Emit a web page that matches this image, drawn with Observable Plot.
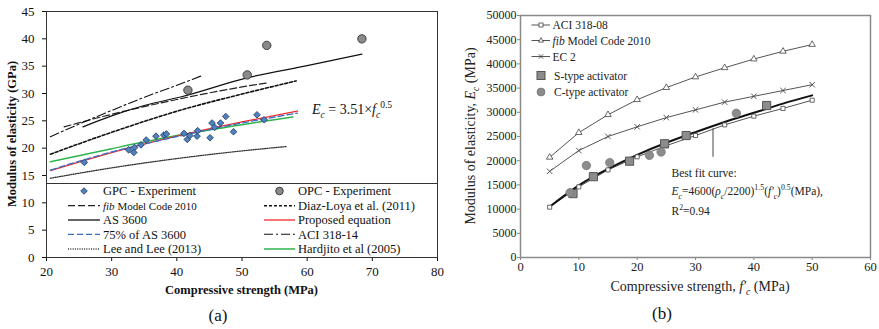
<!DOCTYPE html>
<html><head><meta charset="utf-8">
<script src="https://cdn.jsdelivr.net/npm/d3@7"></script>
<script src="https://cdn.jsdelivr.net/npm/@observablehq/plot@0.6"></script>
<style>
body{margin:0;background:#fff;}
#wrap{position:relative;width:879px;height:329px;font-family:"Liberation Serif","Times New Roman",serif;overflow:hidden;background:#fff;color:#111}
#wrap svg, #wrap svg text{font-family:"Liberation Serif","Times New Roman",serif}
.abs{position:absolute;white-space:nowrap;line-height:1;font-family:"Liberation Serif","Times New Roman",serif}
.panel{position:absolute;top:0;overflow:visible}
sub,sup{font-size:0.68em;line-height:0}
#overlay{position:absolute;left:0;top:0;pointer-events:none}
</style></head><body><div id="wrap"></div><script>
// ---------- Panel (a) data ----------
const xTicksA = [20, 30, 40, 50, 60, 70, 80];
const yTicksA = [0, 5, 10, 15, 20, 25, 30, 35, 40, 45];
const gpcStrength = [25.8, 32.6, 33.5, 33.4, 34.5, 35.3, 36.8, 38.0, 38.4, 41.1, 41.6, 42.0, 43.1, 43.2, 45.1, 45.4, 45.8, 46.7, 47.5, 48.7, 52.3, 53.4];
const gpcModulus  = [17.4, 19.7, 20.1, 19.2, 20.6, 21.5, 22.2, 22.4, 22.6, 22.7, 21.6, 22.3, 22.2, 23.2, 21.9, 24.6, 23.8, 24.6, 25.8, 23.0, 26.1, 25.2];
const opcStrength = [41.7, 50.8, 53.8, 68.4];
const opcModulus  = [30.6, 33.4, 38.8, 40.0];
const fibMC2010   = [[22.7, 23.9], [30, 26.2], [40, 28.9], [50, 31.2], [53.7, 31.9]];
const diazLoya    = [[20.6, 18.9], [30, 22.9], [40.7, 27.0], [50, 29.9], [58.3, 32.3]];
const as3600      = [[25.6, 23.9], [30, 25.9], [35, 27.8], [40.7, 29.4], [50.9, 32.9], [60, 35.1], [68.4, 37.2]];
const proposedEq  = [[20.6, 15.9], [30, 19.2], [40, 22.2], [50, 24.8], [58.5, 26.8]];
const as3600pct75 = [[20.6, 16.0], [30, 19.3], [40, 22.1], [50, 24.6], [58.5, 26.4]];
const aci31814    = [[20.6, 22.1], [25, 24.4], [30, 26.9], [35, 29.3], [40, 31.5], [43.7, 33.2]];
const leeLee      = [[20.6, 14.5], [30, 16.4], [40, 18.1], [50, 19.5], [56.8, 20.3]];
const hardjito    = [[20.6, 17.5], [30, 19.9], [40, 22.3], [50, 24.3], [57.8, 25.7]];

// ---------- Panel (b) data ----------
const xTicksB = [0, 10, 20, 30, 40, 50, 60];
const yTicksB = [0, 5000, 10000, 15000, 20000, 25000, 30000, 35000, 40000, 45000, 50000];
const codeStrength = [5, 10, 15, 20, 25, 30, 35, 40, 45, 50];
const aci31808  = [10400, 14600, 18100, 20800, 23100, 25200, 27400, 29200, 30800, 32500];
const fibB      = [20700, 25800, 29500, 32600, 35100, 37300, 39200, 41000, 42600, 44000];
const ec2       = [17800, 22100, 25000, 27000, 28900, 30500, 32100, 33300, 34500, 35700];
const bestFit   = [10500, 14900, 18300, 21200, 23700, 25900, 28000, 29900, 31800, 33500];
const sStrength = [9.0, 12.5, 18.7, 24.7, 28.4, 42.2];
const sModulus  = [13200, 16700, 19900, 23500, 25200, 31400];
const cStrength = [8.5, 11.3, 15.3, 22.1, 24.1, 37.0];
const cModulus  = [13400, 19000, 19600, 21100, 21800, 29800];
const pointerX  = [33];
const pointerY1 = [26600];
const pointerY2 = [20700];

// ---------- helpers ----------
const pts = arr => arr.map(([f, E]) => ({f, E}));
const zipB = ys => codeStrength.map((f, i) => ({f, E: ys[i]}));
const wrap = document.getElementById("wrap");
const FONT = "'Liberation Serif', 'Times New Roman', serif";

const linesA = [
  {data: hardjito, stroke: "#2fb34c", width: 1.5, dash: null},
  {data: leeLee, stroke: "#333", width: 1.3, dash: "1,1.3"},
  {data: diazLoya, stroke: "#111", width: 1.6, dash: "3,2"},
  {data: fibMC2010, stroke: "#222", width: 1.2, dash: "7,3"},
  {data: aci31814, stroke: "#111", width: 1.1, dash: "9,3,2,3"},
  {data: as3600, stroke: "#111", width: 1.2, dash: null},
  {data: proposedEq, stroke: "#ee2b2b", width: 1.3, dash: null},
  {data: as3600pct75, stroke: "#3a6fc4", width: 1.3, dash: "6,3"}
];

const plotA = Plot.plot({
  width: 440, height: 300,
  marginTop: 11, marginBottom: 43, marginLeft: 46, marginRight: 3,
  style: {fontFamily: FONT, fontSize: "13px", color: "#111", background: "transparent", overflow: "visible"},
  x: {domain: [20, 80]},
  y: {domain: [0, 45]},
  marks: [
    Plot.axisX({ticks: xTicksA, tickSize: 4, tickPadding: 5, label: null, fontSize: 13}),
    Plot.axisY({ticks: yTicksA, tickSize: 4, tickPadding: 8, label: null, fontSize: 13}),
    ...linesA.map(l => Plot.line(pts(l.data), {x: "f", y: "E", stroke: l.stroke, strokeWidth: l.width, strokeDasharray: l.dash, curve: "monotone-x"})),
    Plot.dot(gpcStrength.map((f, i) => ({f, E: gpcModulus[i]})), {x: "f", y: "E", symbol: "diamond2", r: 3, fill: "#4f81bd", stroke: "#1f3864", strokeWidth: 0.8}),
    Plot.dot(opcStrength.map((f, i) => ({f, E: opcModulus[i]})), {x: "f", y: "E", r: 4.2, fill: "#8a8a8a", stroke: "#333", strokeWidth: 0.9}),
    Plot.frame({stroke: "#333", strokeWidth: 1})
  ]
});

const plotB = Plot.plot({
  width: 439, height: 300,
  marginTop: 15, marginBottom: 43, marginLeft: 80, marginRight: 9,
  style: {fontFamily: FONT, fontSize: "12px", color: "#222", background: "transparent"},
  x: {domain: [0, 60]},
  y: {domain: [0, 50000]},
  marks: [
    Plot.axisX({ticks: xTicksB, tickSize: 3, tickPadding: 2, label: null, fontSize: 12.5, stroke: "#888", tickFormat: d3.format("d")}),
    Plot.axisY({ticks: yTicksB, tickSize: 3, tickPadding: 1, label: null, fontSize: 12, stroke: "#888", tickFormat: d3.format("d")}),
    Plot.line(zipB(fibB), {x: "f", y: "E", stroke: "#555", strokeWidth: 1}),
    Plot.line(zipB(ec2), {x: "f", y: "E", stroke: "#555", strokeWidth: 1}),
    Plot.line(zipB(aci31808), {x: "f", y: "E", stroke: "#555", strokeWidth: 1}),
    Plot.line(zipB(bestFit), {x: "f", y: "E", stroke: "#111", strokeWidth: 2, curve: "natural"}),
    Plot.ruleX(pointerX.map((f, i) => ({f, y1: pointerY1[i], y2: pointerY2[i]})), {x: "f", y1: "y1", y2: "y2", stroke: "#444", strokeWidth: 1}),
    Plot.dot(zipB(fibB), {x: "f", y: "E", symbol: "triangle", r: 2.4, fill: "white", stroke: "#444", strokeWidth: 0.8}),
    Plot.dot(zipB(ec2), {x: "f", y: "E", symbol: "times", r: 2.6, stroke: "#444", strokeWidth: 0.9}),
    Plot.dot(zipB(aci31808), {x: "f", y: "E", symbol: "square", r: 2.3, fill: "white", stroke: "#444", strokeWidth: 0.8}),
    Plot.dot(sStrength.map((f, i) => ({f, E: sModulus[i]})), {x: "f", y: "E", symbol: "square", r: 4.6, fill: "#8c8c8c", stroke: "#555", strokeWidth: 1}),
    Plot.dot(cStrength.map((f, i) => ({f, E: cModulus[i]})), {x: "f", y: "E", r: 4.2, fill: "#8c8c8c", stroke: "#777", strokeWidth: 0.8}),
    Plot.frame({stroke: "#8a8a8a", strokeWidth: 1.5})
  ]
});

const pb = document.createElement("div");
pb.className = "panel"; pb.style.left = "440px"; pb.style.width = "439px"; pb.style.height = "300px";
pb.appendChild(plotB); wrap.appendChild(pb);
const pa = document.createElement("div");
pa.className = "panel"; pa.style.left = "0px"; pa.style.width = "440px"; pa.style.height = "300px";
pa.appendChild(plotA); wrap.appendChild(pa);

// ---------- overlay legends ----------
const ov = d3.select(wrap).append("svg").attr("id", "overlay").attr("width", 879).attr("height", 329)
  .style("font-family", FONT);

// Legend (a)
const legA = ov.append("g");
legA.append("rect").attr("x", 47).attr("y", 183.5).attr("width", 389.5).attr("height", 73).attr("fill", "white");
legA.append("line").attr("x1", 46).attr("x2", 437).attr("y1", 183.5).attr("y2", 183.5).attr("stroke", "#333").attr("stroke-width", 1);
const rowsA = [191, 205.7, 220, 234.3, 249];
const legendLeftA = [
  {label: "GPC - Experiment", type: "diamond"},
  {label: "fib", rest: " Model Code 2010", type: "line", stroke: "#222", dash: "7,3", w: 1.2},
  {label: "AS 3600", type: "line", stroke: "#111", dash: null, w: 1.3},
  {label: "75% of AS 3600", type: "line", stroke: "#3a6fc4", dash: "6,3", w: 1.3},
  {label: "Lee and Lee (2013)", type: "line", stroke: "#333", dash: "1,1.3", w: 1.3}
];
const legendRightA = [
  {label: "OPC - Experiment", type: "circle"},
  {label: "Diaz-Loya et al. (2011)", type: "line", stroke: "#111", dash: "3,2", w: 1.6},
  {label: "Proposed equation", type: "line", stroke: "#ee2b2b", dash: null, w: 1.3},
  {label: "ACI 318-14", type: "line", stroke: "#111", dash: "9,3,2,3", w: 1.1},
  {label: "Hardjito et al (2005)", type: "line", stroke: "#2fb34c", dash: null, w: 1.5}
];
function drawLegendA(items, x0, x1, tx) {
  items.forEach((it, i) => {
    const y = rowsA[i];
    if (it.type === "line") {
      legA.append("line").attr("x1", x0).attr("x2", x1).attr("y1", y).attr("y2", y)
        .attr("stroke", it.stroke).attr("stroke-width", it.w).attr("stroke-dasharray", it.dash);
    } else if (it.type === "diamond") {
      const c = (x0 + x1) / 2, s = 3.3;
      legA.append("path").attr("d", `M${c},${y - s}L${c + s},${y}L${c},${y + s}L${c - s},${y}Z`)
        .attr("fill", "#4f81bd").attr("stroke", "#1f3864").attr("stroke-width", 0.8);
    } else {
      legA.append("circle").attr("cx", (x0 + x1) / 2).attr("cy", y).attr("r", 3.8)
        .attr("fill", "#8a8a8a").attr("stroke", "#333").attr("stroke-width", 0.9);
    }
    const t = legA.append("text").attr("x", tx).attr("y", y).attr("dy", "0.35em").attr("fill", "#111");
    if (it.rest) {
      t.attr("font-size", 11).append("tspan").attr("font-style", "italic").text(it.label);
      t.append("tspan").text(it.rest);
    } else {
      t.attr("font-size", 12.5).text(it.label);
    }
  });
}
drawLegendA(legendLeftA, 68, 100, 103);
drawLegendA(legendRightA, 264, 295, 298);

// Legend (b)
const legB = ov.append("g");
const rowsB = [25, 40.5, 56.5, 75.5, 92];
const legendB = [
  {label: "ACI 318-08", sym: "square"},
  {label: "fib", rest: " Model Code 2010", sym: "triangle"},
  {label: "EC 2", sym: "times"},
  {label: "S-type activator", sym: "bigsquare"},
  {label: "C-type activator", sym: "bigcircle"}
];
legendB.forEach((it, i) => {
  const y = rowsB[i], cx = 541;
  if (["square", "triangle", "times"].includes(it.sym)) {
    legB.append("line").attr("x1", 531.5).attr("x2", 550).attr("y1", y).attr("y2", y).attr("stroke", "#555").attr("stroke-width", 1);
    if (it.sym === "square") legB.append("rect").attr("x", cx - 2).attr("y", y - 2).attr("width", 4).attr("height", 4).attr("fill", "white").attr("stroke", "#444").attr("stroke-width", 0.8);
    if (it.sym === "triangle") legB.append("path").attr("d", `M${cx},${y - 2.8}L${cx + 2.5},${y + 1.6}L${cx - 2.5},${y + 1.6}Z`).attr("fill", "white").attr("stroke", "#444").attr("stroke-width", 0.8);
    if (it.sym === "times") legB.append("path").attr("d", `M${cx - 2.2},${y - 2.2}L${cx + 2.2},${y + 2.2}M${cx - 2.2},${y + 2.2}L${cx + 2.2},${y - 2.2}`).attr("stroke", "#444").attr("stroke-width", 0.9);
  } else if (it.sym === "bigsquare") {
    legB.append("rect").attr("x", cx - 4).attr("y", y - 4).attr("width", 8).attr("height", 8).attr("fill", "#8c8c8c").attr("stroke", "#555");
  } else {
    legB.append("circle").attr("cx", cx).attr("cy", y).attr("r", 4).attr("fill", "#8c8c8c").attr("stroke", "#777").attr("stroke-width", 0.8);
  }
  const t = legB.append("text").attr("x", it.sym.startsWith("big") ? 554 : 552.5).attr("y", y).attr("dy", "0.35em").attr("font-size", 11.5).attr("fill", "#222");
  if (it.rest) {
    t.append("tspan").attr("font-style", "italic").text(it.label);
    t.append("tspan").text(it.rest);
  } else t.text(it.label);
});

// ---------- HTML text (titles, captions, annotations) ----------
function addText(html, cx, cy, css, rotate) {
  const d = document.createElement("div");
  d.className = "abs";
  d.innerHTML = html;
  d.style.left = cx + "px"; d.style.top = cy + "px";
  d.style.transform = "translate(-50%,-50%)" + (rotate ? " rotate(-90deg)" : "");
  Object.assign(d.style, css || {});
  wrap.appendChild(d);
  return d;
}
function addLeft(html, x, cy, css) {
  const d = document.createElement("div");
  d.className = "abs";
  d.innerHTML = html;
  d.style.left = x + "px"; d.style.top = cy + "px";
  d.style.transform = "translate(0,-50%)";
  Object.assign(d.style, css || {});
  wrap.appendChild(d);
  return d;
}
addText("Compressive strength (MPa)", 241.5, 290, {fontWeight: "bold", fontSize: "12.5px"});
addText("Modulus of elasticity (GPa)", 12, 134, {fontWeight: "bold", fontSize: "12.5px"}, true);
addText("(a)", 218, 315, {fontSize: "17px"});
addText("Compressive strength, <i>f'</i><sub><i>c</i></sub> (MPa)", 700, 287, {fontSize: "14px", color: "#222"});
addText("Modulus of elasticity, <i>E<sub>c</sub></i> (MPa)", 471, 136, {fontSize: "14px", color: "#222"}, true);
addText("(b)", 662, 313, {fontSize: "17px"});
addLeft("<i>E</i><sub><i>c</i></sub> = 3.51×<i>f</i><sub><i>c</i></sub><sup>0.5</sup>", 312, 110, {fontSize: "14px"});
addLeft("Best fit curve:", 671.5, 173.5, {fontSize: "11.5px", color: "#222"});
addLeft("<i>E</i><sub><i>c</i></sub>=4600(<i>ρ</i><sub><i>c</i></sub>/2200)<sup>1.5</sup>(<i>f'</i><sub><i>c</i></sub>)<sup>0.5</sup>(MPa),", 671.5, 191.5, {fontSize: "11.5px", color: "#222"});
addLeft("R<sup>2</sup>=0.94", 671.5, 211.5, {fontSize: "11.5px", color: "#222"});
</script></body></html>
